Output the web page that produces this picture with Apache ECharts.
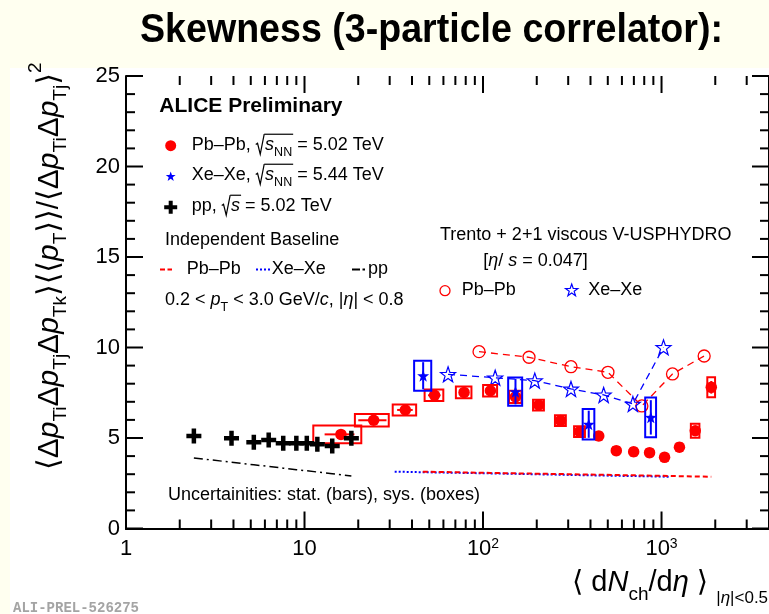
<!DOCTYPE html>
<html>
<head>
<meta charset="utf-8">
<script src="https://cdn.jsdelivr.net/npm/echarts@6/dist/echarts.min.js"></script>
<style>
  html, body { margin: 0; padding: 0; background: #fffff0; }
  #chart { width: 769px; height: 614px; }
</style>
</head>
<body>
<div id="chart"></div>
<script>
// ---- Pb–Pb, sqrt(sNN) = 5.02 TeV ----
const pbX     = [16, 24.4, 36.7, 53.5, 78.3, 110, 152, 205, 272, 348, 445, 558, 698, 857, 1040, 1260, 1545, 1900];
const pbY     = [5.20, 5.98, 6.55, 7.36, 7.52, 7.61, 7.27, 6.82, 5.96, 5.35, 5.11, 4.30, 4.24, 4.19, 3.93, 4.49, 5.40, 7.80];
const pbStat  = [0.15, 0.12, 0.10, 0.10, 0.10, 0.10, 0.10, 0.10, 0.10, 0.10, 0.12, 0.12, 0.12, 0.14, 0.15, 0.18, 0.25, 0.35];
const pbSys   = [0.49, 0.35, 0.30, 0.32, 0.32, 0.32, 0.34, 0.30, 0.30, 0.30, 0.20, 0.20, 0.20, 0.20, 0.20, 0.20, 0.39, 0.55];
const pbXStat = [0.19, 0.18, 0.10, 0.08, 0.06, 0.05, 0.04, 0.04, 0.04, 0.03, 0.03, 0.03, 0.03, 0.03, 0.03, 0.03, 0.03, 0.03]; // relative
const pbXSys  = [0.30, 0.215, 0.15, 0.12, 0.10, 0.09, 0.08, 0.07, 0.07, 0.07, 0.035, 0.035, 0.035, 0.035, 0.035, 0.035, 0.055, 0.05]; // relative

// ---- Xe–Xe, sqrt(sNN) = 5.44 TeV ----
const xeX    = [46.2, 152, 391, 871];
const xeY    = [8.44, 7.56, 5.76, 6.14];
const xeStat = [0.75, 0.70, 0.75, 0.95];
const xeSys  = [0.83, 0.78, 0.84, 1.10];
const xeXSys = [0.11, 0.09, 0.075, 0.07]; // relative

// ---- pp, sqrt(s) = 5.02 TeV ----
const ppX = [2.4, 3.9, 5.2, 6.3, 7.6, 9.0, 10.3, 11.8, 14.3, 18.3];
const ppY = [5.11, 4.98, 4.76, 4.89, 4.71, 4.71, 4.71, 4.65, 4.56, 4.98];

// ---- Independent baselines ----
const pbBaseX = [46, 110, 350, 1000, 1900];
const pbBaseY = [3.14, 3.07, 2.99, 2.91, 2.86];
const xeBaseX = [32, 46, 152, 391, 871, 1100];
const xeBaseY = [3.14, 3.11, 3.02, 2.94, 2.88, 2.86];
const ppBaseX = [2.4, 3.9, 5.2, 6.3, 7.6, 9.0, 10.3, 11.8, 14.3, 18.3];
const ppBaseY = [3.90, 3.66, 3.52, 3.43, 3.33, 3.25, 3.19, 3.12, 3.03, 2.90];

// ---- Trento + 2+1 viscous V-USPHYDRO, eta/s = 0.047 ----
const pbModelX = [95, 181, 311, 501, 776, 1152, 1733];
const pbModelY = [9.77, 9.46, 8.94, 8.63, 6.77, 8.54, 9.53];
const xeModelX = [63.7, 117, 195, 311, 474, 691, 1026];
const xeModelY = [8.52, 8.33, 8.17, 7.71, 7.38, 6.88, 10.01];

// ---- axis ticks ----
const xMajor = [1, 10, 100, 1000];
const xMinor = [2, 3, 4, 5, 6, 7, 8, 9, 20, 30, 40, 50, 60, 70, 80, 90,
                200, 300, 400, 500, 600, 700, 800, 900, 2000, 3000];
const yMajor = [0, 5, 10, 15, 20, 25];
const yMinor = [1, 2, 3, 4, 6, 7, 8, 9, 11, 12, 13, 14, 16, 17, 18, 19, 21, 22, 23, 24];
const xSup = { 1: '1', 10: '10', 100: '10{sup|2}', 1000: '10{sup|3}' };

const FAM = '"Liberation Sans", "DejaVu Sans", Arial, sans-serif';
const RED = '#ff0000', BLUE = '#0000ff', BLACK = '#000000';
const MAJOR_LEN = 17, MINOR_LEN = 9;

const STAR_PATH = 'path://M50,0L61.76,33.82L97.55,34.55L69.02,56.18L79.39,90.45L50,70L20.61,90.45L30.98,56.18L2.45,34.55L38.24,33.82Z';
const CROSS_PATH = 'path://M3.5,0H6.5V3.5H10V6.5H6.5V10H3.5V6.5H0V3.5H3.5Z';

// ---------- text helpers ----------
const mctx = document.createElement('canvas').getContext('2d');
function fontStr(p) {
  return (p.italic ? 'italic ' : '') + (p.bold ? 'bold ' : '') + p.size + 'px ' + FAM;
}
// Lays out a run of text pieces on a common baseline (y = 0), with sub/superscripts
// via dy, and radical signs with an overline spanning the following pieces.
function textRun(parts, size, color) {
  let x = 0;
  const els = [];
  let rad = null;
  parts.forEach(function (q) {
    const p = Object.assign({ size: size, color: color || BLACK }, q);
    if (p.rad) {
      const s = p.size;
      rad = { x0: x, left: p.rad, s: s, color: p.color };
      els.push({
        type: 'polyline',
        shape: { points: [[x, -0.40 * s], [x + 0.10 * s, -0.47 * s], [x + 0.25 * s, 0.14 * s], [x + 0.47 * s, -0.97 * s]] },
        style: { stroke: p.color, lineWidth: 1.2, fill: 'none' }
      });
      x += 0.52 * s;
      return;
    }
    const f = fontStr(p);
    mctx.font = f;
    const w = mctx.measureText(p.t).width;
    els.push({
      type: 'text', x: x, y: (p.dy || 0) - 0.35 * p.size,
      style: { text: p.t, font: f, fill: p.color, align: 'left', verticalAlign: 'middle',
               textAlign: 'left', textVerticalAlign: 'middle' }
    });
    x += w + (p.gap || 0);
    if (rad && --rad.left === 0) {
      els.push({
        type: 'line',
        shape: { x1: rad.x0 + 0.47 * rad.s, y1: -0.97 * rad.s, x2: x + 1, y2: -0.97 * rad.s },
        style: { stroke: rad.color, lineWidth: 1.2 }
      });
      rad = null;
    }
  });
  return els;
}
function runAt(x, y, parts, size, color, extra) {
  return Object.assign({ type: 'group', x: x, y: y, children: textRun(parts, size, color) }, extra || {});
}
function starPoints(cx, cy, ro, ri) {
  const pts = [];
  for (let k = 0; k < 10; k++) {
    const a = -Math.PI / 2 + k * Math.PI / 5;
    const r = k % 2 ? ri : ro;
    pts.push([cx + r * Math.cos(a), cy + r * Math.sin(a)]);
  }
  return pts;
}
function crossPoints(cx, cy, size, arm) {
  const h = size / 2, a = arm / 2;
  return [[cx - a, cy - h], [cx + a, cy - h], [cx + a, cy - a], [cx + h, cy - a], [cx + h, cy + a], [cx + a, cy + a],
          [cx + a, cy + h], [cx - a, cy + h], [cx - a, cy + a], [cx - h, cy + a], [cx - h, cy - a], [cx - a, cy - a]];
}

// ---------- error boxes (sys) and bars (stat) ----------
function errRender(color) {
  return function (params, api) {
    const x = api.value(0), y = api.value(1);
    const xs = api.value(2), ys = api.value(3), xt = api.value(4), yt = api.value(5);
    const a = api.coord([x * (1 - xs), y + ys]);
    const b = api.coord([x * (1 + xs), y - ys]);
    const v1 = api.coord([x, y + yt]), v2 = api.coord([x, y - yt]);
    const h1 = api.coord([x * (1 - xt), y]), h2 = api.coord([x * (1 + xt), y]);
    const children = [
      { type: 'rect', shape: { x: a[0], y: a[1], width: b[0] - a[0], height: b[1] - a[1] },
        style: { fill: 'none', stroke: color, lineWidth: 2 } },
      { type: 'line', shape: { x1: v1[0], y1: v1[1], x2: v2[0], y2: v2[1] },
        style: { stroke: color, lineWidth: 2 } }
    ];
    if (xt > 0) {
      children.push({ type: 'line', shape: { x1: h1[0], y1: h1[1], x2: h2[0], y2: h2[1] },
                      style: { stroke: color, lineWidth: 2 } });
    }
    return { type: 'group', children: children };
  };
}

// ---------- frame ticks (inside, on all four sides) ----------
function xTickRender(params, api) {
  const cs = params.coordSys;
  const p = api.coord([api.value(0), 0]);
  const len = api.value(2);
  const st = { stroke: BLACK, lineWidth: 2 };
  return { type: 'group', children: [
    { type: 'line', shape: { x1: p[0], y1: cs.y + cs.height, x2: p[0], y2: cs.y + cs.height - len }, style: st },
    { type: 'line', shape: { x1: p[0], y1: cs.y, x2: p[0], y2: cs.y + len }, style: st }
  ] };
}
function yTickRender(params, api) {
  const cs = params.coordSys;
  const p = api.coord([1, api.value(1)]);
  const len = api.value(2);
  const st = { stroke: BLACK, lineWidth: 2 };
  return { type: 'group', children: [
    { type: 'line', shape: { x1: cs.x, y1: p[1], x2: cs.x + len, y2: p[1] }, style: st },
    { type: 'line', shape: { x1: cs.x + cs.width, y1: p[1], x2: cs.x + cs.width - len, y2: p[1] }, style: st }
  ] };
}
const xTickData = xMajor.map(v => [v, 0, MAJOR_LEN]).concat(xMinor.map(v => [v, 0, MINOR_LEN]));
const yTickData = yMajor.map(v => [1, v, MAJOR_LEN]).concat(yMinor.map(v => [1, v, MINOR_LEN]));

const pbErrData = pbX.map((x, i) => [x, pbY[i], pbXSys[i], pbSys[i], pbXStat[i], pbStat[i]]);
const xeErrData = xeX.map((x, i) => [x, xeY[i], xeXSys[i], xeSys[i], 0, xeStat[i]]);
const pairs = (xs, ys) => xs.map((x, i) => [x, ys[i]]);

// ---------- axes ----------
const axisLine = { show: true, lineStyle: { color: BLACK, width: 2 } };
const noSplit = { show: false };
function logAxis(position, labels) {
  return {
    type: 'log', logBase: 10, min: 1, max: 4000, position: position,
    axisLine: axisLine,
    axisTick: { show: false },
    axisLabel: labels ? {
      show: true, customValues: xMajor, margin: 9,
      formatter: function (v) { return xSup[Math.round(v)] || ''; },
      color: BLACK, fontSize: 22, fontFamily: FAM,
      rich: { sup: { fontSize: 14, fontFamily: FAM, color: BLACK, verticalAlign: 'top' } }
    } : { show: false },
    splitLine: noSplit, minorSplitLine: noSplit
  };
}
function valAxis(position, labels) {
  return {
    type: 'value', min: 0, max: 25, interval: 5, position: position,
    axisLine: axisLine,
    axisTick: { show: false },
    minorTick: { show: false },
    axisLabel: labels ? { show: true, margin: 6, color: BLACK, fontSize: 22, fontFamily: FAM } : { show: false },
    splitLine: noSplit, minorSplitLine: noSplit
  };
}

// ---------- titles & legend (graphic) ----------
const S = 18;           // legend font size
const sub = (t) => ({ t: t, size: 12.5, dy: 5 });
const graphics = [
  { type: 'rect', z: -10, shape: { x: 10, y: 68, width: 760, height: 546 }, style: { fill: '#ffffff' } },
  { type: 'text', x: 140, y: 31, scaleX: 0.917,
    style: { text: 'Skewness (3-particle correlator):', font: 'bold 41px ' + FAM, fill: BLACK,
             align: 'left', verticalAlign: 'middle', textAlign: 'left', textVerticalAlign: 'middle' } },
  { type: 'text', x: 13, y: 608,
    style: { text: 'ALI-PREL-526275', font: 'bold 14px "Liberation Mono", "DejaVu Sans Mono", monospace', fill: '#a4a4a4',
             align: 'left', verticalAlign: 'middle', textAlign: 'left', textVerticalAlign: 'middle' } },

  runAt(159.3, 114, [{ t: 'ALICE Preliminary', bold: true }], 21),
  // data legend
  { type: 'circle', shape: { cx: 170.7, cy: 145.7, r: 5.5 }, style: { fill: RED } },
  runAt(191.7, 151.7, [{ t: 'Pb–Pb, ' }, { rad: 2 }, { t: 's', italic: true }, sub('NN'), { t: ' = 5.02 TeV' }], S),
  { type: 'polygon', shape: { points: starPoints(170.7, 176.7, 5.2, 2.1) }, style: { fill: BLUE } },
  runAt(191.7, 181.7, [{ t: 'Xe–Xe, ' }, { rad: 2 }, { t: 's', italic: true }, sub('NN'), { t: ' = 5.44 TeV' }], S),
  { type: 'polygon', shape: { points: crossPoints(170.7, 207.3, 13, 4) }, style: { fill: BLACK } },
  runAt(191.7, 212.7, [{ t: 'pp, ' }, { rad: 1 }, { t: 's', italic: true }, { t: ' = 5.02 TeV' }], S),
  // baseline legend
  runAt(165, 246, [{ t: 'Independent Baseline' }], S),
  { type: 'line', shape: { x1: 160, y1: 269.5, x2: 172, y2: 269.5 }, style: { stroke: RED, lineWidth: 2, lineDash: [5, 2.5] } },
  runAt(186.7, 275, [{ t: 'Pb–Pb' }], S),
  { type: 'line', shape: { x1: 256, y1: 269.5, x2: 270, y2: 269.5 }, style: { stroke: BLUE, lineWidth: 2, lineDash: [2, 2] } },
  runAt(271.7, 275, [{ t: 'Xe–Xe' }], S),
  { type: 'line', shape: { x1: 352, y1: 269.5, x2: 360, y2: 269.5 }, style: { stroke: BLACK, lineWidth: 2 } },
  { type: 'line', shape: { x1: 362.5, y1: 269.5, x2: 365, y2: 269.5 }, style: { stroke: BLACK, lineWidth: 2 } },
  runAt(368, 275, [{ t: 'pp' }], S),
  runAt(165, 306.7, [{ t: '0.2 < ' }, { t: 'p', italic: true }, sub('T'), { t: ' < 3.0 GeV/' }, { t: 'c', italic: true },
                     { t: ', |' }, { t: 'η', italic: true }, { t: '| < 0.8' }], S),
  // model legend
  runAt(440, 241.7, [{ t: 'Trento + 2+1 viscous V-USPHYDRO' }], S),
  runAt(483.3, 267, [{ t: '[' }, { t: 'η', italic: true }, { t: '/ ' }, { t: 's', italic: true }, { t: ' = 0.047]' }], S),
  { type: 'circle', shape: { cx: 445, cy: 290.7, r: 5 }, style: { fill: 'none', stroke: RED, lineWidth: 1.3 } },
  runAt(461.7, 296.5, [{ t: 'Pb–Pb' }], S),
  { type: 'polygon', shape: { points: starPoints(571.7, 290.5, 6.5, 2.6) }, style: { fill: 'none', stroke: BLUE, lineWidth: 1.2 } },
  runAt(588.3, 296.5, [{ t: 'Xe–Xe' }], S),
  runAt(168, 501.5, [{ t: 'Uncertainities: stat. (bars), sys. (boxes)' }], S),

  // x-axis title
  runAt(572, 593, [{ t: '⟨ d' }, { t: 'N', italic: true }, { t: 'ch', size: 19, dy: 8 }, { t: '/d' },
                   { t: 'η', italic: true }, { t: ' ⟩ ' },
                   { t: '|', size: 17, dy: 11 }, { t: 'η', size: 17, dy: 11, italic: true }, { t: '|<0.5', size: 17, dy: 11 }], 29),
  // y-axis title (rotated, reads bottom to top)
  runAt(60, 470, [
    { t: '⟨' }, { t: 'Δ' }, { t: 'p', italic: true }, { t: 'Ti', size: 19, dy: 7 },
    { t: 'Δ' }, { t: 'p', italic: true }, { t: 'Tj', size: 19, dy: 7 },
    { t: 'Δ' }, { t: 'p', italic: true }, { t: 'Tk', size: 19, dy: 7 },
    { t: '⟩⟨⟨' }, { t: 'p', italic: true }, { t: 'T', size: 19, dy: 7 }, { t: '⟩⟩/⟨' },
    { t: 'Δ' }, { t: 'p', italic: true }, { t: 'Ti', size: 19, dy: 7 },
    { t: 'Δ' }, { t: 'p', italic: true }, { t: 'Tj', size: 19, dy: 7 }, { t: '⟩' },
    { t: '2', size: 19, dy: -18 }
  ], 30, BLACK, { rotation: Math.PI / 2 })
];

// ---------- chart ----------
const chart = echarts.init(document.getElementById('chart'), null, { renderer: 'canvas' });
chart.setOption({
  animation: false,
  backgroundColor: '#fffff0',
  textStyle: { fontFamily: FAM },
  grid: { left: 126, top: 76, width: 644, height: 452.5, containLabel: false },
  xAxis: [logAxis('bottom', true), logAxis('top', false)],
  yAxis: [valAxis('left', true), valAxis('right', false)],
  graphic: { elements: graphics },
  series: [
    { name: 'Xe–Xe baseline', type: 'line', data: pairs(xeBaseX, xeBaseY), showSymbol: false, symbol: 'none', z: 2,
      lineStyle: { color: BLUE, width: 2, type: [2, 2] } },
    { name: 'Pb–Pb baseline', type: 'line', data: pairs(pbBaseX, pbBaseY), showSymbol: false, symbol: 'none', z: 2,
      lineStyle: { color: RED, width: 2, type: [5, 3] } },
    { name: 'pp baseline', type: 'line', data: pairs(ppBaseX, ppBaseY), showSymbol: false, symbol: 'none', z: 2,
      lineStyle: { color: BLACK, width: 1.5, type: [9, 4, 2, 4] } },

    { name: 'Pb–Pb model', type: 'line', data: pairs(pbModelX, pbModelY), z: 3,
      symbol: 'circle', symbolSize: 12, showSymbol: true,
      itemStyle: { color: 'rgba(0,0,0,0)', borderColor: RED, borderWidth: 1.3 },
      lineStyle: { color: RED, width: 1.3, type: [7, 5] } },
    { name: 'Xe–Xe model', type: 'line', data: pairs(xeModelX, xeModelY), z: 3,
      symbol: STAR_PATH, symbolSize: 15, showSymbol: true,
      itemStyle: { color: 'rgba(0,0,0,0)', borderColor: BLUE, borderWidth: 1.2 },
      lineStyle: { color: BLUE, width: 1.3, type: [7, 5] } },

    { name: 'Pb–Pb unc.', type: 'custom', renderItem: errRender(RED), data: pbErrData, z: 4,
      encode: { x: 0, y: 1 } },
    { name: 'Pb–Pb', type: 'scatter', data: pairs(pbX, pbY), z: 5,
      symbol: 'circle', symbolSize: 11.5, itemStyle: { color: RED, opacity: 1 } },
    { name: 'Xe–Xe unc.', type: 'custom', renderItem: errRender(BLUE), data: xeErrData, z: 6,
      encode: { x: 0, y: 1 } },
    { name: 'Xe–Xe', type: 'scatter', data: pairs(xeX, xeY), z: 7,
      symbol: STAR_PATH, symbolSize: 12, itemStyle: { color: BLUE, opacity: 1 } },
    { name: 'pp', type: 'scatter', data: pairs(ppX, ppY), z: 8,
      symbol: CROSS_PATH, symbolSize: 15, itemStyle: { color: BLACK, opacity: 1 } },

    { name: 'x ticks', type: 'custom', renderItem: xTickRender, data: xTickData, z: 9, silent: true,
      encode: { x: 0, y: 1 } },
    { name: 'y ticks', type: 'custom', renderItem: yTickRender, data: yTickData, z: 9, silent: true,
      encode: { x: 0, y: 1 } }
  ]
});
</script>
</body>
</html>
